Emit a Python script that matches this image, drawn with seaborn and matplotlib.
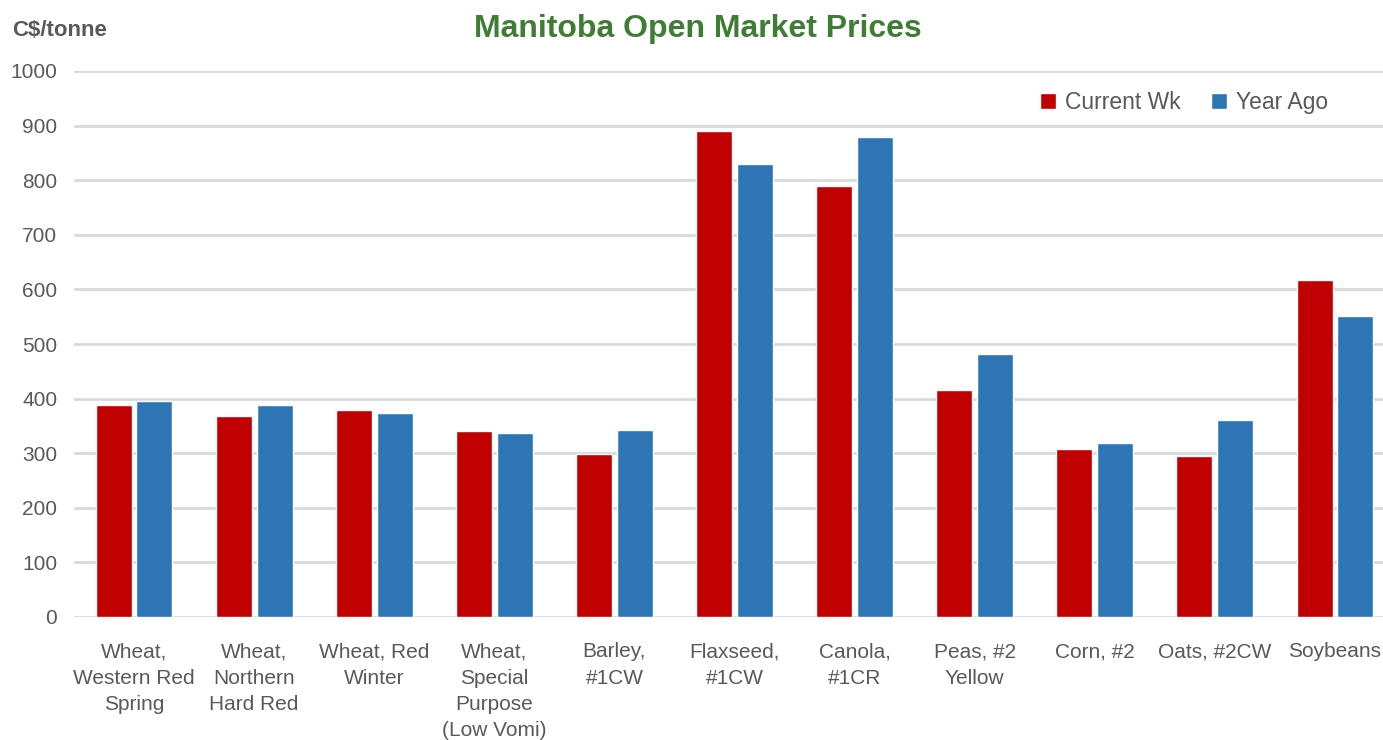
import seaborn as sns
import pandas as pd
import matplotlib.pyplot as plt

# Prices (C$/tonne)
categories = ["Wheat,\nWestern Red\nSpring", "Wheat,\nNorthern\nHard Red", "Wheat, Red\nWinter",
              "Wheat,\nSpecial\nPurpose\n(Low Vomi)", "Barley,\n#1CW", "Flaxseed,\n#1CW",
              "Canola,\n#1CR", "Peas, #2\nYellow", "Corn, #2", "Oats, #2CW", "Soybeans"]
currentWk = [389, 368, 379, 341, 298, 890, 789, 416, 307, 294, 618]
yearAgo = [396, 388, 373, 337, 342, 829, 879, 482, 318, 361, 551]
series = ["Current Wk", "Year Ago"]
yTicks = list(range(0, 1001, 100))

data = pd.DataFrame({
    "category": categories * 2,
    "price": currentWk + yearAgo,
    "series": [series[0]] * len(categories) + [series[1]] * len(categories),
})

sns.set_style("white")
plt.rcParams['font.family'] = ['Liberation Sans', 'DejaVu Sans']

fig = plt.figure(figsize=(13.83, 7.40), dpi=100)
ax = fig.add_axes([74 / 1383, 1 - 617 / 740, 1321 / 1383, 546 / 740])

sns.barplot(data=data, x="category", y="price", hue="series", ax=ax,
            palette=["#C00000", "#2E75B6"], width=0.68, gap=0.12,
            saturation=1, errorbar=None)

ax.set_ylim(0, 1000)
ax.set_xlim(-0.5, len(categories) - 0.5)
ax.set_yticks(yTicks)
ax.yaxis.grid(True, color="#D9D9D9", linewidth=2)
ax.set_axisbelow(True)
for s in ax.spines.values():
    s.set_visible(False)
ax.set_xlabel("")
ax.set_ylabel("")
ax.tick_params(axis="y", length=0, labelsize=15, labelcolor="#595959", pad=12)
ax.tick_params(axis="x", length=0, labelsize=15, labelcolor="#595959", pad=18)
for lbl in ax.get_xticklabels():
    lbl.set_linespacing(1.5)
    lbl.set_verticalalignment("top")

leg = ax.legend(loc="center right", bbox_to_anchor=(0.965, 0.943), ncol=2, frameon=False,
                fontsize=16.5, handlelength=0.7, handleheight=0.7, handletextpad=0.4,
                columnspacing=1.3)
for t in leg.get_texts():
    t.set_color("#595959")

fig.text(698 / 1383, 1 - 29 / 740, "Manitoba Open Market Prices", ha="center", va="center",
         fontsize=23, fontweight="bold", color="#3F7D35")
fig.text(12 / 1383, 1 - 31 / 740, "C$/tonne", ha="left", va="center",
         fontsize=16, fontweight="bold", color="#595959")

fig.savefig("out.png", dpi=100)
